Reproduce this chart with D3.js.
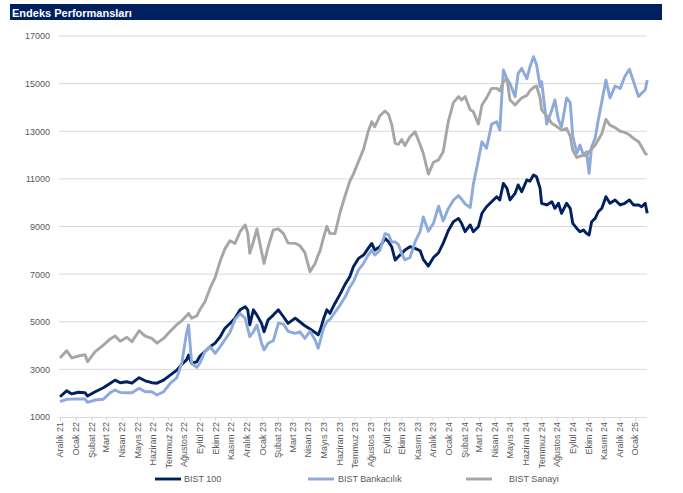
<!DOCTYPE html>
<html><head><meta charset="utf-8">
<script src="https://cdn.jsdelivr.net/npm/d3@7"></script>
<style>
html,body{margin:0;padding:0;background:#fff;}
svg{display:block;font-family:"Liberation Sans",Arial,sans-serif;}
</style></head>
<body>
<svg id="chart" width="683" height="493"></svg>
<script>
const title = "Endeks Performansları";
const seriesNames = ["BIST 100", "BIST Bankacılık", "BIST Sanayi"];
const yTicks = [1000, 3000, 5000, 7000, 9000, 11000, 13000, 15000, 17000];
const monthLabels = ["Aralık 21","Ocak 22","Şubat 22","Mart 22","Nisan 22","Mayıs 22","Haziran 22","Temmuz 22","Ağustos 22","Eylül 22","Ekim 22","Kasım 22","Aralık 22","Ocak 23","Şubat 23","Mart 23","Nisan 23","Mayıs 23","Haziran 23","Temmuz 23","Ağustos 23","Eylül 23","Ekim 23","Kasım 23","Aralık 23","Ocak 24","Şubat 24","Mart 24","Nisan 24","Mayıs 24","Haziran 24","Temmuz 24","Ağustos 24","Eylül 24","Ekim 24","Kasım 24","Aralık 24","Ocak 25"];

const dates = [
"2021-12-01","2021-12-14","2021-12-24","2022-01-06","2022-01-19","2022-01-24","2022-02-08","2022-02-24","2022-03-09","2022-03-19",
"2022-03-29","2022-04-11","2022-04-21","2022-05-05","2022-05-17","2022-05-30","2022-06-09","2022-06-22","2022-07-05","2022-07-18",
"2022-07-28","2022-08-06","2022-08-10","2022-08-16","2022-08-26","2022-09-01","2022-09-11","2022-09-21","2022-10-01","2022-10-11",
"2022-10-20","2022-10-30","2022-11-09","2022-11-19","2022-11-29","2022-12-04","2022-12-08","2022-12-15","2022-12-22","2022-12-31",
"2023-01-05","2023-01-13","2023-01-23","2023-02-02","2023-02-12","2023-02-21","2023-03-07","2023-03-16","2023-03-26","2023-04-05",
"2023-04-15","2023-04-21","2023-04-25","2023-05-01","2023-05-08","2023-05-14","2023-05-24","2023-06-03","2023-06-13","2023-06-22",
"2023-06-29","2023-07-09","2023-07-19","2023-07-28","2023-08-04","2023-08-10","2023-08-20","2023-08-30","2023-09-06","2023-09-12",
"2023-09-19","2023-09-25","2023-10-02","2023-10-08","2023-10-18","2023-10-28","2023-11-07","2023-11-13","2023-11-23","2023-12-03",
"2023-12-13","2023-12-22","2024-01-01","2024-01-11","2024-01-21","2024-01-27","2024-02-03","2024-02-13","2024-02-19","2024-02-29",
"2024-03-07","2024-03-16","2024-03-26","2024-04-05","2024-04-11","2024-04-18","2024-04-25","2024-05-01","2024-05-11","2024-05-17",
"2024-05-24","2024-06-03","2024-06-09","2024-06-16","2024-06-22","2024-06-29","2024-07-02","2024-07-12","2024-07-22","2024-07-28",
"2024-08-04","2024-08-10","2024-08-20","2024-08-27","2024-09-01","2024-09-09","2024-09-15","2024-09-22","2024-09-28","2024-10-03",
"2024-10-08","2024-10-15","2024-10-21","2024-10-28","2024-11-05","2024-11-13","2024-11-23","2024-12-03","2024-12-12","2024-12-21",
"2024-12-29","2025-01-08","2025-01-14","2025-01-21","2025-01-25"];

const bist100 = [
1850,2100,1970,2040,2020,1880,2060,2230,2410,2550,
2440,2480,2420,2650,2520,2440,2420,2550,2760,2970,
3220,3400,3600,3250,3320,3550,3750,3950,4100,4370,
4720,4930,5150,5500,5630,5500,4870,5500,5280,4930,
4580,5080,5280,5500,5210,4930,5150,5000,4830,4700,
4550,4450,4650,5080,5500,5350,5780,6160,6580,6890,
7310,7660,7800,8080,8290,8010,8150,8500,8360,8150,
7590,7730,7870,8010,8150,8080,7980,7620,7340,7700,
7900,8290,8820,9200,9340,9135,8780,9065,8780,8990,
9555,9830,10040,10250,10115,10810,10600,10115,10395,10745,
10460,10955,10900,11165,11090,10600,9975,9905,10040,9765,
9975,9555,9975,9765,9135,8920,8780,8850,8710,8640,
9200,9340,9620,9765,10250,9975,10115,9905,9975,10115,
9905,9905,9830,9975,9555];

const bistBankacilik = [
1643,1743,1750,1756,1756,1617,1714,1743,2020,2134,
2030,2020,2020,2205,2060,2060,1924,2060,2415,2650,
3300,4515,4865,3255,3080,3255,3745,3955,3675,3955,
4235,4550,5100,5340,5145,4700,4370,4580,4865,4100,
3815,4095,4200,4935,4900,4600,4515,4580,4300,4600,
4235,3885,4200,4700,5000,5100,5400,5700,6050,6450,
6680,7175,7450,7800,8010,7800,8000,8700,8650,8350,
8350,8250,7850,7600,7700,8360,8800,9400,8800,9135,
9850,9230,9750,10100,10300,10150,9950,9800,10750,11795,
12560,12285,13300,13400,13050,15570,15200,15000,14455,15430,
15640,15200,15700,16130,15800,14875,15080,13300,13895,14315,
13470,13190,14400,14200,12800,12075,12420,12005,12140,11235,
12350,12705,13470,14245,15150,14400,14900,14800,15300,15600,
15100,14455,14595,14735,15150];

const bistSanayi = [
3480,3785,3480,3560,3620,3320,3750,4020,4270,4400,
4180,4350,4160,4625,4400,4300,4100,4300,4600,4880,
5050,5250,5355,5145,5250,5500,5840,6400,6850,7550,
8050,8400,8290,8780,9065,8710,7870,8360,8900,7950,
7450,8150,8850,8900,8700,8300,8290,8200,7900,7100,
7450,7800,8000,8500,9000,8710,8700,9600,10300,10900,
11200,11725,12250,12985,13400,13190,13650,13850,13700,13300,
12500,12450,12650,12400,12770,12980,12420,12075,11200,11700,
11800,12140,13400,14200,14455,14315,14455,13900,13825,13300,
14105,14400,14800,14800,14700,15080,15220,14315,14100,14245,
14400,14500,14700,14840,14900,14400,13900,13650,13330,13250,
13150,13050,13120,12800,12200,11900,11950,12000,11950,12150,
12250,12420,12630,12900,13500,13250,13150,13000,12950,12850,
12700,12560,12350,12075,12005];

const colors = ["#002060", "#8EA9DB", "#A6A6A6"];

const parse = d3.timeParse("%Y-%m-%d");
const dateObjs = dates.map(parse);
const monthTicks = d3.timeMonth.range(new Date(2021, 11, 1), new Date(2025, 1, 1));

const svg = d3.select("#chart");

// header bar
svg.append("rect").attr("x", 10).attr("y", 4).attr("width", 652).attr("height", 16).attr("fill", "#002060");
svg.append("text").attr("x", 12).attr("y", 16.5).attr("fill", "#fff")
  .attr("font-size", 11).attr("font-weight", "bold").text(title);

const x = d3.scaleTime().domain([new Date(2021, 11, 1), new Date(2025, 0, 1)]).range([60, 635]);
const y = d3.scaleLinear().domain([1000, 17000]).range([417, 36]);
const plotLeft = 59, plotRight = 647;

// grid
svg.append("g").selectAll("line").data(yTicks.slice(1)).join("line")
  .attr("x1", plotLeft).attr("x2", plotRight)
  .attr("y1", d => y(d)).attr("y2", d => y(d))
  .attr("stroke", "#d9d9d9").attr("stroke-width", 1);

// y axis labels
const yAxis = d3.axisLeft(y).tickValues(yTicks).tickSize(0).tickPadding(0).tickFormat(d3.format("d"));
const yg = svg.append("g").attr("transform", `translate(50,0)`).call(yAxis);
yg.select(".domain").remove();
yg.selectAll("text").attr("font-size", 9).attr("fill", "#595959").attr("font-family", "Liberation Sans, Arial, sans-serif");

// x axis
const xAxis = d3.axisBottom(x).tickValues(monthTicks).tickSize(4).tickFormat((d, i) => monthLabels[i]);
const xg = svg.append("g").attr("transform", `translate(0,${y(1000)})`).call(xAxis);
xg.select(".domain").attr("d", `M${plotLeft},0.5H${plotRight}`).attr("stroke", "#d9d9d9");
xg.selectAll(".tick line").attr("stroke", "#d9d9d9");
xg.selectAll(".tick text")
  .attr("font-size", 9).attr("fill", "#595959").attr("font-family", "Liberation Sans, Arial, sans-serif")
  .attr("text-anchor", "end").attr("transform", "rotate(-90)")
  .attr("x", -5).attr("y", 0).attr("dy", "0.33em");

// lines
const allSeries = [bist100, bistBankacilik, bistSanayi];
const line = d3.line().x(d => x(d[0])).y(d => y(d[1]));
allSeries.forEach((vals, i) => {
  svg.append("path")
    .datum(dateObjs.map((dt, j) => [dt, vals[j]]))
    .attr("fill", "none").attr("stroke", colors[i]).attr("stroke-width", 2.9)
    .attr("stroke-linejoin", "round").attr("d", line);
});

// legend
const legendX = [155, 308, 466];
const legendTextX = [184, 338, 509];
const lg = svg.append("g");
seriesNames.forEach((name, i) => {
  lg.append("line").attr("x1", legendX[i]).attr("x2", legendX[i] + 26)
    .attr("y1", 479).attr("y2", 479).attr("stroke", colors[i]).attr("stroke-width", 2.9);
  lg.append("text").attr("x", legendTextX[i]).attr("y", 482)
    .attr("font-size", 9).attr("fill", "#595959").text(name);
});
</script>
</body></html>
